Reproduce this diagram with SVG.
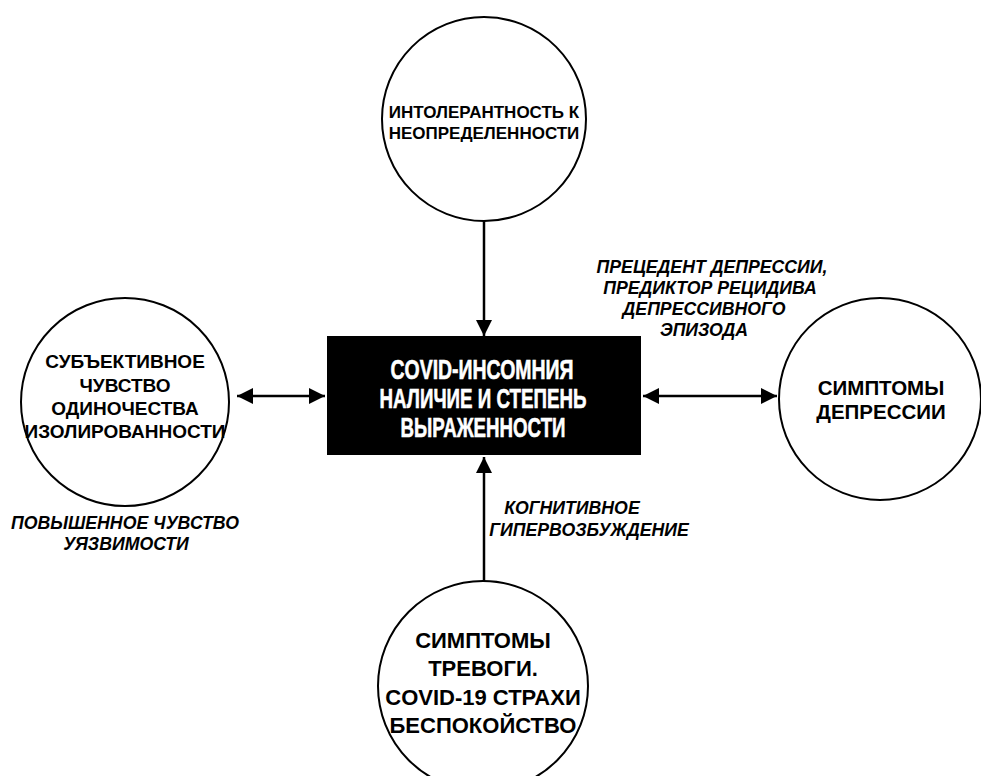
<svg xmlns="http://www.w3.org/2000/svg" width="981" height="776" viewBox="0 0 981 776">
<defs>
<style>
.node circle{fill:#fff;stroke:#000;stroke-width:2}
.nt{font-family:"Liberation Sans",Arial,sans-serif;font-weight:bold;fill:#000;text-anchor:middle}
.lbl{font-family:"Liberation Sans",Arial,sans-serif;font-weight:bold;font-style:italic;fill:#000;text-anchor:middle;font-size:17.7px}
.ct{font-family:"Liberation Sans",Arial,sans-serif;font-weight:bold;fill:#fff;stroke:#fff;stroke-width:0.6;text-anchor:middle;font-size:27px}
.conn line{stroke:#000;stroke-width:2.5}
</style>
<marker id="ah" viewBox="0 0 16 16" refX="16" refY="8" markerWidth="16" markerHeight="16" markerUnits="userSpaceOnUse" orient="auto-start-reverse">
<path d="M0,0 L16,8 L0,16 z" fill="#000"/>
</marker>
</defs>
<rect width="981" height="776" fill="#fff"/>
<g id="connectors" class="conn">
<line x1="484" y1="221" x2="484" y2="336" marker-end="url(#ah)"/>
<line x1="484" y1="581" x2="484" y2="457" marker-end="url(#ah)"/>
<line x1="237" y1="396" x2="325" y2="396" marker-start="url(#ah)" marker-end="url(#ah)"/>
<line x1="643" y1="396" x2="777" y2="396" marker-start="url(#ah)" marker-end="url(#ah)"/>
</g>
<g id="node-top" class="node">
<circle cx="484" cy="119" r="102"/>
<text class="nt" font-size="17" x="484" y="118">ИНТОЛЕРАНТНОСТЬ К</text>
<text class="nt" font-size="17" x="484" y="139">НЕОПРЕДЕЛЕННОСТИ</text>
</g>
<g id="node-left" class="node">
<circle cx="125" cy="402" r="104"/>
<text class="nt" font-size="19" x="125" y="368">СУБЪЕКТИВНОЕ</text>
<text class="nt" font-size="19" x="125" y="392">ЧУВСТВО</text>
<text class="nt" font-size="19" x="125" y="415">ОДИНОЧЕСТВА</text>
<text class="nt" font-size="19" x="125" y="438">ИЗОЛИРОВАННОСТИ</text>
</g>
<g id="node-right" class="node">
<circle cx="880" cy="399" r="101"/>
<text class="nt" font-size="20.5" x="881" y="395">СИМПТОМЫ</text>
<text class="nt" font-size="20.5" x="881" y="419">ДЕПРЕССИИ</text>
</g>
<g id="node-bottom" class="node">
<circle cx="483" cy="686" r="105"/>
<text class="nt" font-size="22" x="483" y="648">СИМПТОМЫ</text>
<text class="nt" font-size="22" x="483" y="676">ТРЕВОГИ.</text>
<text class="nt" font-size="22" x="483" y="705">COVID-19 СТРАХИ</text>
<text class="nt" font-size="22" x="483" y="733">БЕСПОКОЙСТВО</text>
</g>
<g id="node-center">
<rect x="327" y="336" width="314" height="119" fill="#000"/>
<text class="ct" x="482" y="379" textLength="183" lengthAdjust="spacingAndGlyphs">COVID-ИНСОМНИЯ</text>
<text class="ct" x="483" y="408" textLength="207" lengthAdjust="spacingAndGlyphs">НАЛИЧИЕ И СТЕПЕНЬ</text>
<text class="ct" x="483" y="437" textLength="165" lengthAdjust="spacingAndGlyphs">ВЫРАЖЕННОСТИ</text>
</g>
<g id="label-depression">
<text class="lbl" x="712" y="273">ПРЕЦЕДЕНТ ДЕПРЕССИИ,</text>
<text class="lbl" x="710" y="294">ПРЕДИКТОР РЕЦИДИВА</text>
<text class="lbl" x="704" y="315">ДЕПРЕССИВНОГО</text>
<text class="lbl" x="704" y="336">ЭПИЗОДА</text>
</g>
<g id="label-cognitive">
<text class="lbl" x="572" y="514">КОГНИТИВНОЕ</text>
<text class="lbl" x="589" y="536">ГИПЕРВОЗБУЖДЕНИЕ</text>
</g>
<g id="label-vulnerability">
<text class="lbl" x="125" y="529">ПОВЫШЕННОЕ ЧУВСТВО</text>
<text class="lbl" x="126" y="550">УЯЗВИМОСТИ</text>
</g>
</svg>
